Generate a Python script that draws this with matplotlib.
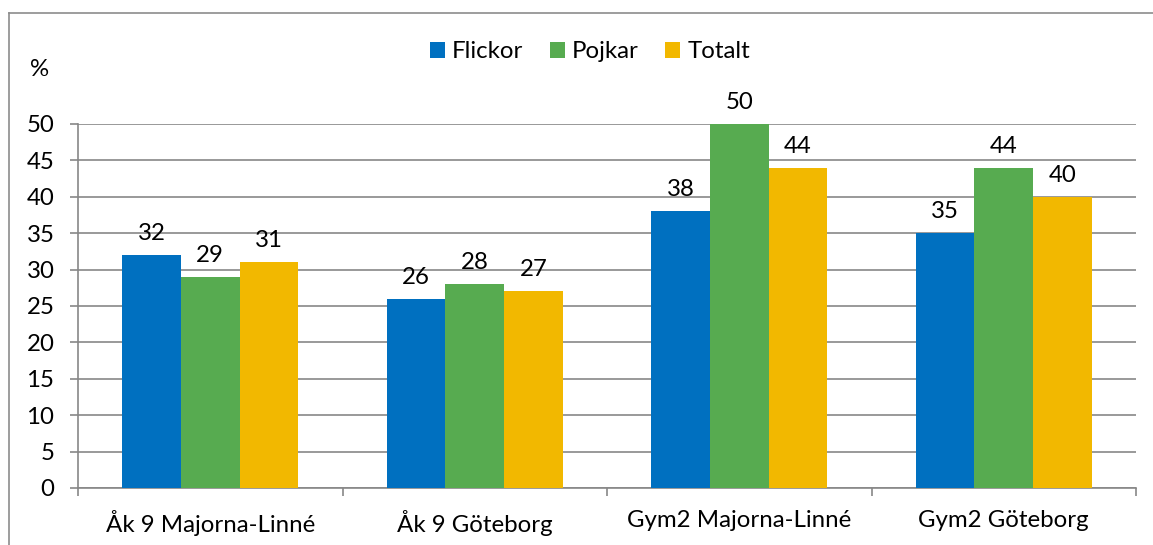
import matplotlib
matplotlib.use('Agg')
import matplotlib.pyplot as plt
from matplotlib.lines import Line2D
import numpy as np

categories = ['Åk 9 Majorna-Linné', 'Åk 9 Göteborg', 'Gym2 Majorna-Linné', 'Gym2 Göteborg']
series_names = ['Flickor', 'Pojkar', 'Totalt']
flickor = [32, 26, 38, 35]
pojkar = [29, 28, 50, 44]
totalt = [31, 27, 44, 40]
colors = ['#0070C0', '#57AB50', '#F2B800']

plt.rcParams['font.family'] = ['Lato', 'DejaVu Sans']
fs = 17.3

fig = plt.figure(figsize=(11.53, 5.45), dpi=100)
ax = fig.add_axes([78 / 1153, 1 - 488 / 545, (1136 - 78) / 1153, (488 - 124) / 545])

grid_c = '#878787'
x = np.arange(len(categories))
w = 0.222
for i, (vals, name, c) in enumerate(zip([flickor, pojkar, totalt], series_names, colors)):
    pos = x + (i - 1) * w
    ax.bar(pos, vals, width=w, color=c, label=name, zorder=3)
    for p, v in zip(pos, vals):
        ax.annotate(str(v), (p, v), xytext=(0, 8), textcoords='offset points',
                    ha='center', va='bottom', fontsize=fs, color='#000000')

ax.set_xlim(-0.5, 3.5)
ax.set_ylim(0, 50)
ax.set_yticks(range(0, 51, 5))
ax.yaxis.grid(True, color=grid_c, linewidth=1.2, zorder=0)
ax.set_axisbelow(True)

ax.set_xticks(np.arange(-0.5, 4, 1))
ax.set_xticklabels([])
ax.set_xticks(x, minor=True)
ax.set_xticklabels(categories, minor=True, fontsize=fs)
ax.tick_params(axis='x', which='minor', length=0, pad=16)
ax.tick_params(axis='x', which='major', length=6, color=grid_c, width=1.2)
ax.tick_params(axis='y', length=6, color=grid_c, width=1.2, labelsize=fs, pad=11)

for s in ['top', 'right']:
    ax.spines[s].set_visible(False)
for s in ['left', 'bottom']:
    ax.spines[s].set_color(grid_c)
    ax.spines[s].set_linewidth(1.2)

ax.legend(loc='center', bbox_to_anchor=(590 / 1153, 1 - 52 / 545), bbox_transform=fig.transFigure,
          ncol=3, frameon=False, fontsize=fs, handlelength=0.62, handleheight=0.62,
          handletextpad=0.3, columnspacing=1.1)

fig.text(40 / 1153, 1 - 70 / 545, '%', fontsize=fs, ha='center', va='center')

# outer chart border
fig.add_artist(Line2D([9 / 1153, 9 / 1153], [0, 1 - 13 / 545], transform=fig.transFigure,
                      color='#8c8c8c', linewidth=1.2))
fig.add_artist(Line2D([9 / 1153, 1], [1 - 13 / 545, 1 - 13 / 545], transform=fig.transFigure,
                      color='#8c8c8c', linewidth=1.2))

fig.savefig('out.png', dpi=100, facecolor='white')
